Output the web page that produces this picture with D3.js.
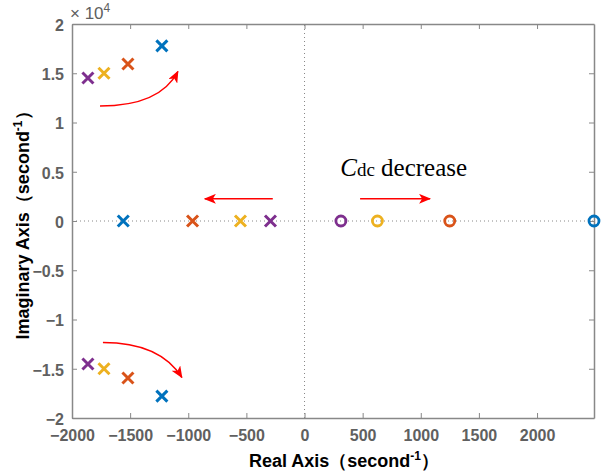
<!DOCTYPE html>
<html>
<head>
<meta charset="utf-8">
<script src="https://d3js.org/d3.v7.min.js"></script>
<style>
  body { margin: 0; background: #fff; }
</style>
</head>
<body>
<div id="chart"></div>
<script>
// poles (x markers) for four Cdc values
const seriesNames = ["Cdc1", "Cdc2", "Cdc3", "Cdc4"];
const seriesColors = ["#0072BD", "#D95319", "#EDB120", "#7E2F8E"];
const poleRe = [
  [-1227, -1227, -1559],
  [-1519, -1519, -963],
  [-1725, -1725, -551],
  [-1863, -1863, -293]
];
const poleIm = [
  [17780, -17780, 0],
  [15940, -15940, 0],
  [15000, -15000, 0],
  [14520, -14520, 0]
];
// zeros (o markers)
const zeroRe = [2490, 1249, 627, 313];
const zeroIm = [0, 0, 0, 0];

const xTicks = [-2000, -1500, -1000, -500, 0, 500, 1000, 1500, 2000];
const yTicks = [-20000, -15000, -10000, -5000, 0, 5000, 10000, 15000, 20000];

// annotation arrows in data units: [start, control, end]
const curveArrows = [
  [[-1759, 11675], [-1244, 11675], [-1089, 15180]],
  [[-1734, -12335], [-1244, -12335], [-1055, -15888]]
];
const straightArrows = [
  [[-273, 2250], [-857, 2250]],
  [[478, 2250], [1080, 2250]]
];

const W = 602, H = 474;
const m = { left: 72, right: 8, top: 24, bottom: 56 };
const sans = "Liberation Sans, Arial, sans-serif";

const svg = d3.select("#chart").append("svg")
  .attr("width", W).attr("height", H);

const x = d3.scaleLinear().domain([-2000, 2490]).range([m.left, W - m.right]);
const y = d3.scaleLinear().domain([-20000, 20000]).range([H - m.bottom, m.top]);

// zero lines (dotted)
svg.append("line")
  .attr("x1", x.range()[0]).attr("x2", x.range()[1])
  .attr("y1", y(0)).attr("y2", y(0))
  .attr("stroke", "#888").attr("stroke-dasharray", "1,3");
svg.append("line")
  .attr("x1", x(0)).attr("x2", x(0))
  .attr("y1", y.range()[0]).attr("y2", y.range()[1])
  .attr("stroke", "#888").attr("stroke-dasharray", "1,3");

// axes
const axisColor = "#888";
const gx = svg.append("g").attr("transform", `translate(0,${y(-20000)})`)
  .call(d3.axisBottom(x).tickValues(xTicks).tickSizeInner(-5).tickSizeOuter(0).tickPadding(12)
    .tickFormat(d3.format("d")));
const gy = svg.append("g").attr("transform", `translate(${x(-2000)},0)`)
  .call(d3.axisLeft(y).tickValues(yTicks).tickSizeInner(-5).tickSizeOuter(0).tickPadding(8)
    .tickFormat(d => d3.format("")(d / 10000)));
const gxt = svg.append("g").attr("transform", `translate(0,${y(20000)})`)
  .call(d3.axisTop(x).tickValues(xTicks).tickSizeInner(-5).tickSizeOuter(0).tickFormat(""));
const gyr = svg.append("g").attr("transform", `translate(${x.range()[1]},0)`)
  .call(d3.axisRight(y).tickValues(yTicks).tickSizeInner(-5).tickSizeOuter(0).tickFormat(""));
[gx, gy, gxt, gyr].forEach(g => {
  g.attr("font-family", sans).attr("font-size", 16).attr("font-weight", "bold");
  g.select(".domain").attr("stroke", axisColor).attr("stroke-width", 1.5);
  g.selectAll(".tick line").attr("stroke", axisColor);
  g.selectAll(".tick text").attr("fill", "#606060");
});
gy.selectAll(".tick text").attr("dy", "0.4em");

// exponent label
const expo = svg.append("text").attr("x", m.left - 2).attr("y", 19)
  .attr("font-family", sans).attr("font-size", 17).attr("fill", "#606060");
expo.append("tspan").text("× 10");
expo.append("tspan").attr("dy", -7).attr("font-size", 12).text("4");

// axis titles
const xt = svg.append("text")
  .attr("font-family", sans).attr("font-size", 18).attr("font-weight", "bold")
  .attr("x", (x.range()[0] + x.range()[1]) / 2 + 11).attr("y", 467).attr("text-anchor", "middle");
xt.append("tspan").text("Real Axis（second");
xt.append("tspan").attr("dy", -7).attr("font-size", 12).text("-1");
xt.append("tspan").attr("dy", 7).text("）");

const yt = svg.append("text")
  .attr("font-family", sans).attr("font-size", 18).attr("font-weight", "bold")
  .attr("transform", `translate(29,${(y.range()[0] + y.range()[1]) / 2}) rotate(-90)`)
  .attr("text-anchor", "middle");
yt.append("tspan").text("Imaginary Axis（second");
yt.append("tspan").attr("dy", -7).attr("font-size", 12).text("-1");
yt.append("tspan").attr("dy", 7).text("）");

// arrows
const defs = svg.append("defs");
defs.append("marker").attr("id", "ah")
  .attr("viewBox", "0 0 12 10").attr("refX", 11).attr("refY", 5)
  .attr("markerWidth", 12).attr("markerHeight", 10).attr("markerUnits", "userSpaceOnUse")
  .attr("orient", "auto")
  .append("path").attr("d", "M0,0 L12,5 L0,10 L3,5 Z").attr("fill", "#ff0000");

svg.selectAll(".carrow").data(curveArrows).join("path")
  .attr("class", "carrow")
  .attr("d", d => `M${x(d[0][0])},${y(d[0][1])} Q${x(d[1][0])},${y(d[1][1])} ${x(d[2][0])},${y(d[2][1])}`)
  .attr("fill", "none").attr("stroke", "#ff0000").attr("stroke-width", 1.5)
  .attr("marker-end", "url(#ah)");
svg.selectAll(".sarrow").data(straightArrows).join("line")
  .attr("class", "sarrow")
  .attr("x1", d => x(d[0][0])).attr("y1", d => y(d[0][1]))
  .attr("x2", d => x(d[1][0])).attr("y2", d => y(d[1][1]))
  .attr("stroke", "#ff0000").attr("stroke-width", 1.5)
  .attr("marker-end", "url(#ah)");

// annotation text
const ann = svg.append("text").attr("x", x(307)).attr("y", y(4619))
  .attr("font-family", "Liberation Serif, Times New Roman, serif")
  .attr("font-size", 25).attr("fill", "#000");
ann.append("tspan").attr("font-style", "italic").text("C");
ann.append("tspan").attr("font-size", 19).text("dc");
ann.append("tspan").text(" decrease");

// poles and zeros
const s = 5.5;
seriesNames.forEach((name, i) => {
  const pts = poleRe[i].map((r, j) => [r, poleIm[i][j]]);
  svg.append("g").selectAll("path").data(pts).join("path")
    .attr("transform", d => `translate(${x(d[0])},${y(d[1])})`)
    .attr("d", `M${-s},${-s}L${s},${s}M${-s},${s}L${s},${-s}`)
    .attr("stroke", seriesColors[i]).attr("stroke-width", 3).attr("fill", "none");
  svg.append("circle")
    .attr("cx", x(zeroRe[i])).attr("cy", y(zeroIm[i])).attr("r", 5)
    .attr("fill", "none").attr("stroke", seriesColors[i]).attr("stroke-width", 2.8);
});
</script>
</body>
</html>
